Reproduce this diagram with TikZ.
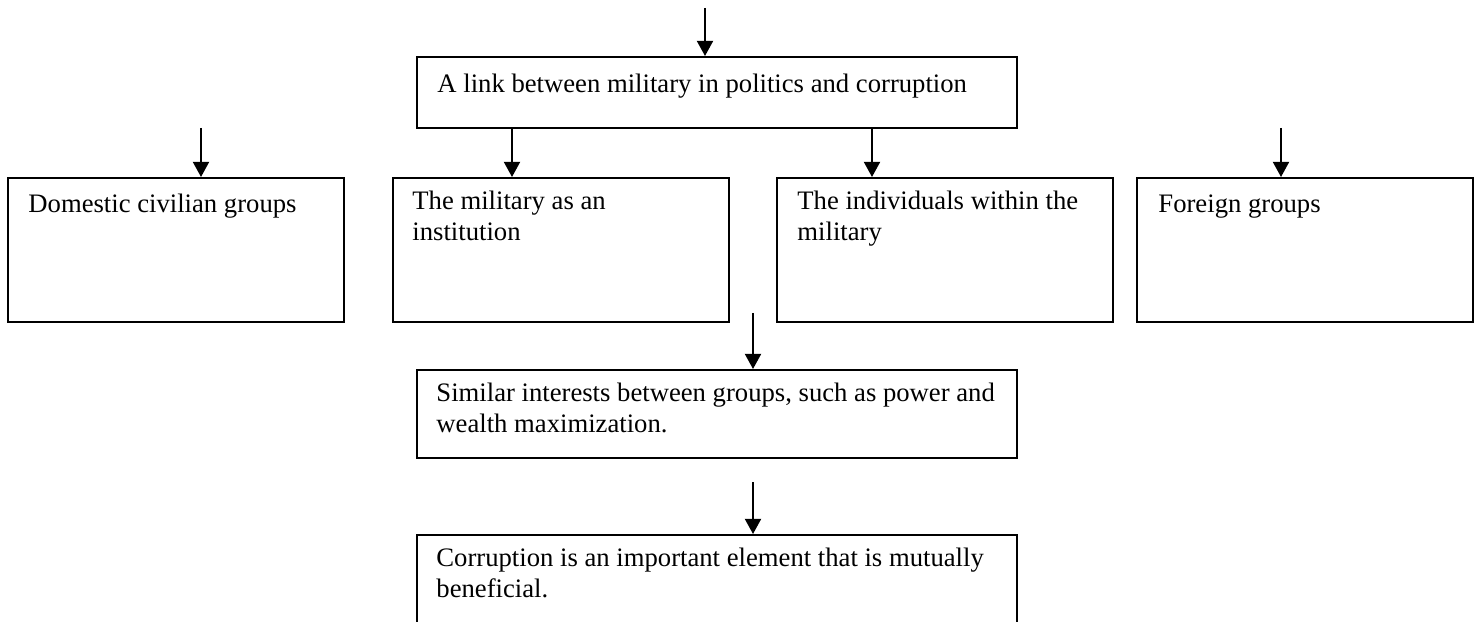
\documentclass[tikz,border=0pt]{standalone}
\usepackage{fontspec}
\setmainfont{Liberation Serif}
\usetikzlibrary{arrows.meta,calc}

\tikzset{
  frame/.style={draw, line width=0.9pt, inner sep=0pt, minimum width=151.2pt, minimum height=64.8pt},
  wide/.style={frame, minimum width=270pt},
  txt/.style={anchor=north west, inner sep=0pt, align=left, font=\fontsize{12}{13.95}\selectfont, execute at begin node=\strut},
  arr/.style={-{Triangle[length=6.8pt,width=7.2pt]}, line width=0.9pt}
}

\begin{document}
\begin{tikzpicture}[x=0.45pt, y=-0.45pt]
        \clip (0,0) rectangle (1479,622);

        % boxes
        \node[wide, minimum height=31.95pt] (link) at (717,92.5) {};
        \node[frame] (dom) at (176,250) {};
        \node[frame] (inst) at (561,250) {};
        \node[frame] (indiv) at (945,250) {};
        \node[frame] (foreign) at (1305,250) {};
        \node[wide, minimum height=39.6pt] (sim) at (717,414) {};
        \node[wide, minimum height=45pt] (corr) at (717,585) {};

        % texts
        \node[txt] (linktxt) at ($(link.north west)+(21,14.3)$) {A link between military in politics and corruption};
        \node[txt] (domtxt) at ($(dom.north west)+(21,13.3)$) {Domestic civilian groups};
        \node[txt] (insttxt) at ($(inst.north west)+(20,13.3)$) {The military as an\\institution};
        \node[txt] (indivtxt) at ($(indiv.north west)+(21,13.3)$) {The individuals within the\\military};
        \node[txt] (foreigntxt) at ($(foreign.north west)+(22,13.3)$) {Foreign groups};
        \node[txt] (simtxt) at ($(sim.north west)+(20,13.3)$) {Similar interests between groups, such as power and\\wealth maximization.};
        \node[txt] (corrtxt) at ($(corr.north west)+(20,13.3)$) {Corruption is an important element that is mutually\\beneficial.};

        % arrows
        \coordinate (inlink) at (705,8);
        \coordinate (indom) at (201,128);
        \coordinate (inforeign) at (1281,128);
        \coordinate (outinst) at ($(link.south west)+(96,0)$);
        \coordinate (outindiv) at ($(link.south west)+(456,0)$);
        \coordinate (insim) at (753,313);
        \coordinate (incorr) at (753,482);

        \draw[arr] (inlink) -- (inlink |- link.north);
        \draw[arr] (indom) -- (indom |- dom.north);
        \draw[arr] (outinst) -- (outinst |- inst.north);
        \draw[arr] (outindiv) -- (outindiv |- indiv.north);
        \draw[arr] (inforeign) -- (inforeign |- foreign.north);
        \draw[arr] (insim) -- (insim |- sim.north);
        \draw[arr] (incorr) -- (incorr |- corr.north);
    \end{tikzpicture}
\end{document}
